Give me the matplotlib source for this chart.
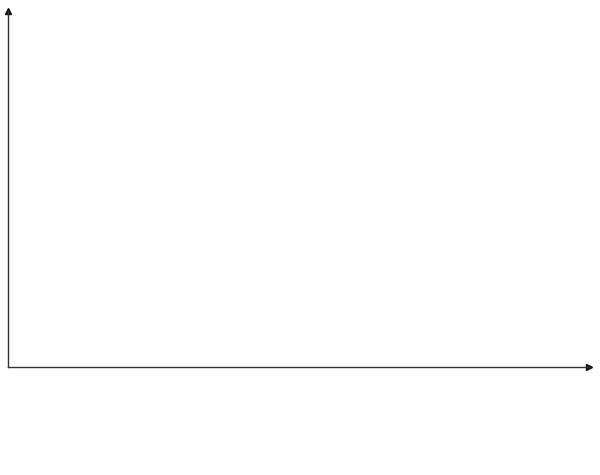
import matplotlib
matplotlib.use("Agg")
import matplotlib.pyplot as plt

# the reference chart has no series; only the two axes are drawn
x_values = []
y_values = []

fig = plt.figure(figsize=(6, 4.75), dpi=100)
ax = fig.add_axes([7.5 / 600, 108 / 475, 581.5 / 600, 356 / 475])
ax.plot(x_values, y_values)
ax.set_xlim(0, 1)
ax.set_ylim(0, 1)

for side in ("top", "right"):
    ax.spines[side].set_visible(False)
for side in ("left", "bottom"):
    ax.spines[side].set_color("#333333")
    ax.spines[side].set_linewidth(1.0)
ax.set_xticks([])
ax.set_yticks([])

# arrow heads at the ends of both axes
ax.plot(1, 0, ">", color="#111111", markersize=5, transform=ax.get_yaxis_transform(), clip_on=False)
ax.plot(0, 1, "^", color="#111111", markersize=5, transform=ax.get_xaxis_transform(), clip_on=False)

fig.savefig("out.png", dpi=100)
